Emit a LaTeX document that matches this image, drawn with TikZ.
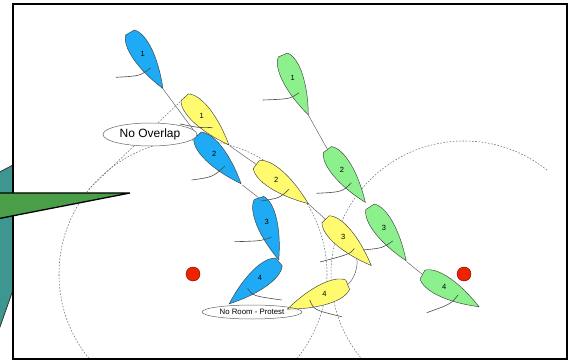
\documentclass[tikz,border=0pt]{standalone}
\usepackage{fontspec}
\setmainfont{Liberation Sans}
\usetikzlibrary{shapes.geometric}
\definecolor{boatblue}{RGB}{30,170,245}
\definecolor{boatyellow}{RGB}{255,250,110}
\definecolor{boatgreen}{RGB}{140,240,140}
\definecolor{markred}{RGB}{240,35,0}
\definecolor{calloutteal}{RGB}{62,150,145}
\definecolor{calloutgreen}{RGB}{74,158,72}
\begin{document}
\begin{tikzpicture}[x=1pt,y=-1pt,
  hulledge/.style={draw=black!75, line width=0.45pt},
  boatnum/.style={font=\fontsize{7.5}{8}\selectfont, inner sep=0pt},
  track/.style={draw=black!60, line width=0.5pt},
  sail/.style={draw=black!70, line width=0.6pt},
  zone/.style={draw=black!55, line width=0.55pt, dash pattern=on 1.6pt off 1.6pt},
  buoy/.style={circle, fill=markred, draw=red!45!black, line width=0.4pt, minimum size=14pt, inner sep=0pt},
  callout/.style={ellipse, draw=black!60, line width=0.5pt, inner sep=0pt},
  pics/hull/.style 2 args={code={
    \path[hulledge, fill=#1] (0,-5) .. controls (9,-14) and (36,-12) .. (65,0)
          .. controls (36,12) and (9,14) .. (0,5) -- cycle;
    \coordinate (-stern) at (0,0);
    \coordinate (-mast) at (41,0);
    \coordinate (-bow) at (65,0);
    \node[boatnum] (-num) at (25,0) {#2};
  }}
]
\useasboundingbox (0,0) rectangle (577,363);

% teal panel behind the frame
\filldraw[fill=calloutteal, draw=black!80, line width=0.8pt] (-5,174.5) -- (13,165) -- (13,290) -- (-5,341) -- cycle;

% frame
\fill[white] (13,4) rectangle (567,359);
\draw[line width=1.8pt] (13,4) rectangle (567,359);

% marks
\node[buoy] (m1) at (193,274) {};
\node[buoy] (m2) at (464,274) {};

% two-length zones around the marks
\begin{scope}
  \clip (14,5) rectangle (566,357);
  \draw[zone] (m1.center) circle[radius=134];
  \draw[zone] (m2.center) ++(-51.4:133) arc[start angle=-51.4, end angle=-240, radius=133];
\end{scope}

% tracks, drawn under the hulls
\draw[track] (163.3,89.3) -- (197.5,135.5);
\draw[track] (242.3,185) -- (259,198);
\draw[track] (230,146) -- (256.3,164.5);
\draw[track] (307.7,203.3) -- (325.5,219.3);
\draw[track] (354,249) .. controls (360,260) and (357,276) .. (347.7,284.7);
\draw[track] (308.3,115) -- (327.5,149.5);
\draw[track] (406.7,261.7) -- (422.5,274.5);

% overlap line abeam of the leading yellow boat
\coordinate (ovEnd) at (88,190);
\draw[zone] (184.7,97.3) -- (ovEnd);

% hulls
\pic[rotate=-59.6] (b1) at (130,32.5) {hull={boatblue}{1}};
\pic[rotate=-47.9] (b2) at (197.5,135.5) {hull={boatblue}{2}};
\pic[rotate=-72.3] (b3) at (259,198) {hull={boatblue}{3}};
\pic[rotate=-140] (b4) at (279,262) {hull={boatblue}{4}};
\pic[rotate=-47.1] (y1) at (184.7,97.3) {hull={boatyellow}{1}};
\pic[rotate=-37.0] (y2) at (256.3,164.5) {hull={boatyellow}{2}};
\pic[rotate=-45.3] (y3) at (325.5,219.3) {hull={boatyellow}{3}};
\pic[rotate=-158] (y4) at (347.7,284.7) {hull={boatyellow}{4}};
\pic[rotate=-67.1] (g1) at (283,55) {hull={boatgreen}{1}};
\pic[rotate=-54.4] (g2) at (327.5,149.5) {hull={boatgreen}{2}};
\pic[rotate=-56.2] (g3) at (370,206.8) {hull={boatgreen}{3}};
\pic[rotate=-29.7] (g4) at (422.5,274.5) {hull={boatgreen}{4}};

% booms
\draw[sail] (b1-mast) .. controls (140,76) .. (116,77.3);
\draw[sail] (b2-mast) .. controls (213,177) .. (191.7,180);
\draw[sail] (b3-mast) .. controls (261,241) .. (234.3,241.7);
\draw[sail] (b4-mast) .. controls (253,296) .. (281.7,300);
\draw[sail] (y1-mast) .. controls (200,128) .. (180,124);
\draw[sail] (y2-mast) .. controls (280,198) .. (261,201);
\draw[sail] (y3-mast) .. controls (350,254) .. (320,262);
\draw[sail] (y4-mast) .. controls (314,310) .. (341.7,316.7);
\draw[sail] (g1-mast) .. controls (290,99) .. (262.7,100);
\draw[sail] (g2-mast) .. controls (342,192) .. (316.7,193.3);
\draw[sail] (g3-mast) .. controls (383,248) .. (363,250);
\draw[sail] (g4-mast) .. controls (451,304) .. (426.7,312.7);

% labels
\node[callout, fill=white, minimum width=94pt, minimum height=23pt, font=\fontsize{12}{14}\selectfont] (noOverlap) at (150,134.5) {No Overlap};
\node[callout, minimum width=100pt, minimum height=14pt, font=\fontsize{7.8}{9}\selectfont] (noRoom) at (252,312) {No Room - Protest};

% green pointer over the frame
\filldraw[fill=calloutgreen, draw=black, line width=1.3pt, line join=miter] (-5,193) -- (130,193) -- (-5,219.3) -- cycle;
\end{tikzpicture}
\end{document}
